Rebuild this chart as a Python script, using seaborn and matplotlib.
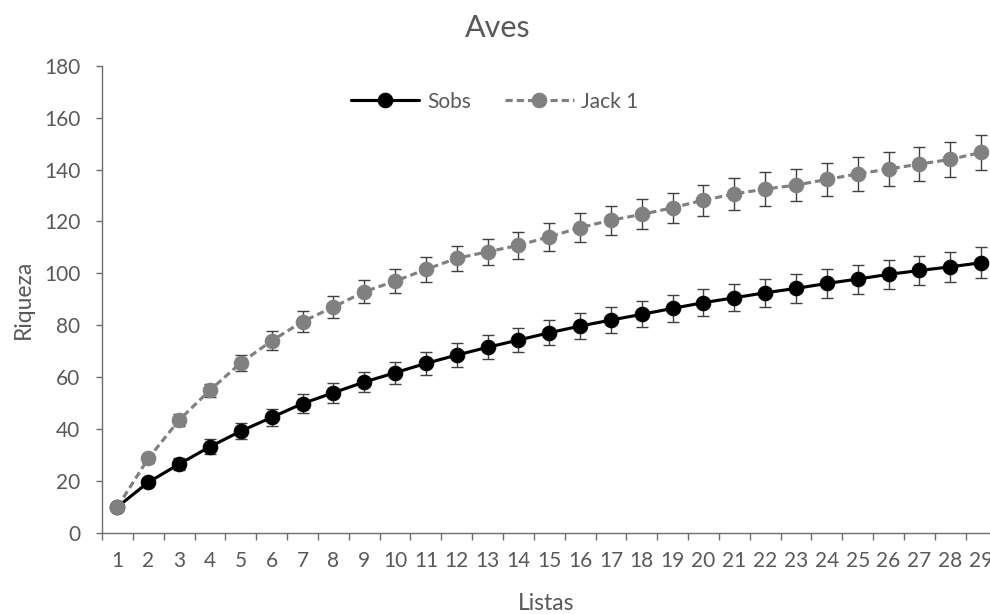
import numpy as np
import matplotlib
matplotlib.use("Agg")
import matplotlib.pyplot as plt
import seaborn as sns

# listas (x) and the two richness estimators with their error bars
listas = list(range(1, 30))
sobs = [10, 19.5, 26.5, 33.2, 39.2, 44.5, 49.8, 54.0, 58.1, 61.7,
        65.3, 68.5, 71.5, 74.3, 77.1, 79.7, 82.0, 84.2, 86.5, 88.7,
        90.6, 92.5, 94.2, 96.1, 97.8, 99.6, 101.1, 102.5, 104.1]
sobs_err = [0, 1.5, 2.3, 2.9, 3.1, 3.4, 3.7, 3.9, 4.0, 4.3,
            4.3, 4.5, 4.6, 4.7, 4.8, 4.9, 4.9, 5.0, 5.1, 5.1,
            5.3, 5.3, 5.5, 5.5, 5.6, 5.6, 5.7, 5.8, 5.9]
jack1 = [10, 28.7, 43.5, 55.0, 65.5, 74.0, 81.4, 87.0, 92.9, 97.0,
         101.5, 105.8, 108.3, 110.8, 114.1, 117.6, 120.5, 122.7, 125.3, 128.2,
         130.6, 132.5, 134.0, 136.2, 138.3, 140.2, 142.1, 143.9, 146.6]
jack1_err = [0, 1.8, 2.2, 2.5, 3.1, 3.7, 4.0, 4.3, 4.4, 4.5,
             4.8, 4.9, 5.1, 5.3, 5.3, 5.5, 5.6, 5.8, 5.8, 6.0,
             6.1, 6.4, 6.2, 6.4, 6.4, 6.6, 6.6, 6.6, 6.8]
yticks = list(range(0, 181, 20))

sns.set_style("white")
plt.rcParams['font.family'] = ['Lato', 'DejaVu Sans']

txt = '#595959'
axcol = '#6e6e6e'

fig = plt.figure(figsize=(9.9, 6.14), dpi=100)
ax = fig.add_axes([0.1031, 0.1322, 0.8969, 0.7607])

# error bars first so the markers sit on top of them
ax.errorbar(listas, sobs, yerr=sobs_err, fmt='none', ecolor='#404040',
            elinewidth=1, capsize=4.6, capthick=1, zorder=1)
ax.errorbar(listas, jack1, yerr=jack1_err, fmt='none', ecolor='#404040',
            elinewidth=1, capsize=4.6, capthick=1, zorder=1)

sns.lineplot(x=listas, y=sobs, ax=ax, color='black', marker='o',
             markersize=10.5, markeredgecolor='black', linewidth=2.25,
             label='Sobs', zorder=3)
sns.lineplot(x=listas, y=jack1, ax=ax, color='#808080', marker='o',
             markersize=10.5, markeredgecolor='#808080', linewidth=2.25,
             linestyle=(0, (2.3, 1.3)), label='Jack 1', zorder=4)

ax.set_xlim(0.5, 29.29)
ax.set_ylim(0, 180)
ax.set_yticks(yticks)
ax.set_xticks(listas)
ax.set_xticks(np.arange(0.5, 29.5, 1), minor=True)
ax.tick_params(axis='x', which='major', length=0, pad=13, labelsize=15, labelcolor=txt)
ax.tick_params(axis='x', which='minor', length=5, width=1, color=axcol, direction='out', bottom=True)
ax.tick_params(axis='y', length=4.6, width=1, color=axcol, direction='out', left=True,
               pad=11, labelsize=15, labelcolor=txt)

for s in ['top', 'right']:
    ax.spines[s].set_visible(False)
for s in ['left', 'bottom']:
    ax.spines[s].set_color(axcol)
    ax.spines[s].set_linewidth(1)

ax.set_xlabel('Listas', fontsize=16.5, color=txt, va='baseline')
ax.xaxis.set_label_coords(0.5, -0.1653)
ax.set_ylabel('Riqueza', fontsize=16.5, color=txt, va='center')
ax.yaxis.set_label_coords(-0.0887, 0.5)

fig.text(0.5025, 0.940, 'Aves', ha='center', va='baseline', fontsize=22, color=txt)

leg = ax.legend(loc='center', bbox_to_anchor=(0.442, 0.923), ncol=2, frameon=False,
                fontsize=15, handlelength=3.3, handletextpad=0.35, columnspacing=1.65,
                borderpad=0)
for t in leg.get_texts():
    t.set_color(txt)

fig.savefig('out.png', dpi=100)
